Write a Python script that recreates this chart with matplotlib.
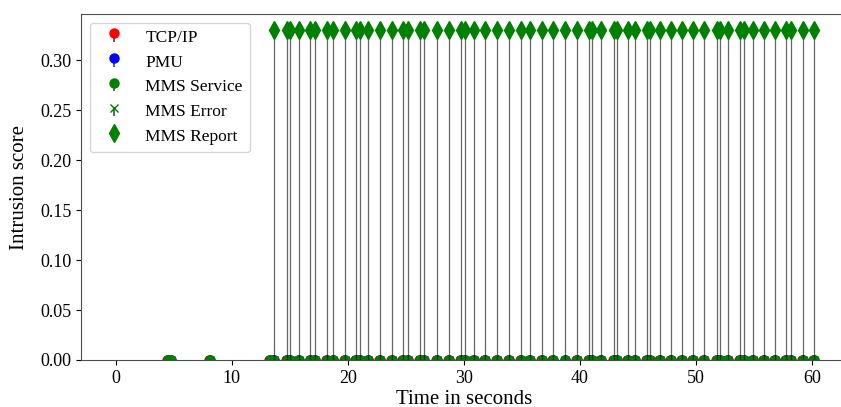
import matplotlib.pyplot as plt

plt.rcParams['font.family'] = ['Liberation Serif', 'DejaVu Serif']

# times (s) of MMS report alerts, score 0.33
report_t = [13.66, 14.76, 15.04, 15.76, 16.77, 17.18, 18.18, 18.75, 19.76, 20.71,
            21.02, 21.77, 22.77, 23.81, 24.78, 25.18, 26.19, 26.53, 27.69, 28.69,
            29.76, 30.10, 30.84, 31.83, 32.83, 33.87, 34.91, 35.69, 36.72, 37.70,
            38.74, 39.75, 40.75, 41.04, 41.82, 42.89, 43.17, 44.12, 44.76, 45.76,
            46.05, 46.85, 47.86, 48.81, 49.72, 50.71, 51.83, 52.03, 52.78, 53.74,
            54.09, 54.89, 55.87, 56.76, 57.77, 58.20, 59.18, 60.13]
report_score = [0.33] * len(report_t)

# packets that scored zero in the other detectors
early_t = [4.5, 4.75, 8.1, 13.3]
other_t = early_t + report_t
tcp_t = [t - 0.08 for t in other_t]
tcp_score = [0.0] * len(tcp_t)
pmu_score = [0.0] * len(other_t)
service_score = [0.0] * len(other_t)
error_score = [0.0] * len(other_t)

series = [
    ('TCP/IP', tcp_t, tcp_score, 'ro', 6.5),
    ('PMU', other_t, pmu_score, 'bo', 6.5),
    ('MMS Service', other_t, service_score, 'go', 6.5),
    ('MMS Error', other_t, error_score, 'gx', 6),
    ('MMS Report', report_t, report_score, 'gd', 9),
]

fig = plt.figure(figsize=(8.41, 4.07), dpi=100)
ax = fig.add_axes([81 / 841, 1 - 360 / 407, (847 - 81) / 841, (360 - 14) / 407])

for name, t, s, fmt, ms in series:
    markers, stems, base = ax.stem(t, s, linefmt='k-', markerfmt=fmt, basefmt=' ', label=name)
    stems.set_linewidth(0.9)
    stems.set_alpha(0.6)
    markers.set_markersize(ms)

ax.set_xlim(-3, 63)
ax.set_ylim(0, 0.3465)
ax.set_xticks(range(0, 61, 10))
ax.set_yticks([0, 0.05, 0.10, 0.15, 0.20, 0.25, 0.30])
ax.set_yticklabels(['0.00', '0.05', '0.10', '0.15', '0.20', '0.25', '0.30'])
ax.tick_params(labelsize=13)
for sp in ax.spines.values():
    sp.set_color('0.3')

ax.set_xlabel('Time in seconds', fontsize=15, labelpad=2)
ax.set_ylabel('Intrusion score', fontsize=15, labelpad=8)
ax.legend(loc='upper left', fontsize=12.5)

fig.savefig('out.png', dpi=100)
